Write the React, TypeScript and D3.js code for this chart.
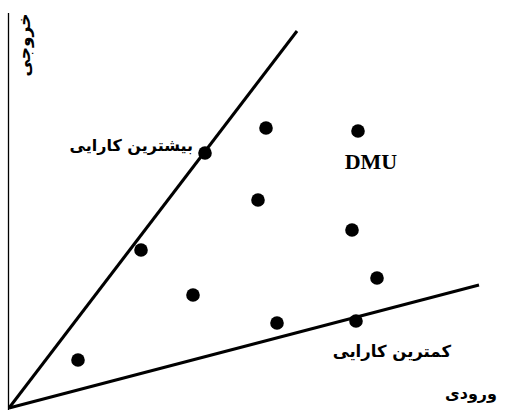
import React from "react";
import * as d3 from "d3";

const W = 508;
const H = 410;

// DMU points (input, output)
const dmuInput = [39.2, 51.4, 69.8, 49.8, 68.6, 73.6, 26.4, 36.8, 13.8, 53.6, 69.4];
const dmuOutput = [51, 56, 55.4, 41.6, 35.6, 26, 31.6, 22.6, 9.6, 17, 17.4];

// frontier lines from origin
const maxEffEnd = [57.6, 75.4];
const minEffEnd = [94, 24.6];

const labelMax = "بیشترین کارایی";
const labelMin = "کمترین کارایی";
const labelDMU = "DMU";
const xTitle = "ورودی";
const yTitle = "خروجی";

export default function App() {
  const x = d3.scaleLinear().domain([0, 100]).range([9, 509]);
  const y = d3.scaleLinear().domain([0, 80]).range([408, 8]);
  const line = d3
    .line<number[]>()
    .x((d) => x(d[0]))
    .y((d) => y(d[1]));
  const arabicFont = "'DejaVu Sans', sans-serif";
  return (
    <svg
      width={W}
      height={H}
      style={{ position: "absolute", left: 0, top: 0, background: "#fff" }}
    >
      <rect x={0} y={0} width={W} height={H} fill="#fff" />
      {/* y axis */}
      <line x1={x(0) - 0.5} x2={x(0) - 0.5} y1={13} y2={H} stroke="#000" strokeWidth={1.3} />
      <path d={line([[0, 0], maxEffEnd]) || ""} stroke="#000" strokeWidth={3} fill="none" />
      <path d={line([[0, 0], minEffEnd]) || ""} stroke="#000" strokeWidth={3} fill="none" />
      {dmuInput.map((v, i) => (
        <circle key={i} cx={x(v)} cy={y(dmuOutput[i])} r={6.8} fill="#000" />
      ))}
      <text
        x={193}
        y={151}
        textAnchor="end"
        fontFamily={arabicFont}
        fontWeight="bold"
        fontSize={16}
        fill="#000"
      >
        {labelMax}
      </text>
      <text
        x={371}
        y={169}
        textAnchor="middle"
        fontFamily="'Liberation Serif', serif"
        fontWeight="bold"
        fontSize={22}
        fill="#000"
      >
        {labelDMU}
      </text>
      <text
        x={451}
        y={357}
        textAnchor="end"
        fontFamily={arabicFont}
        fontWeight="bold"
        fontSize={16.5}
        fill="#000"
      >
        {labelMin}
      </text>
      <text
        x={497}
        y={399}
        textAnchor="end"
        fontFamily={arabicFont}
        fontWeight="bold"
        fontSize={16}
        fill="#000"
      >
        {xTitle}
      </text>
      <text
        transform="translate(30,45) rotate(-90)"
        textAnchor="middle"
        fontFamily={arabicFont}
        fontWeight="bold"
        fontSize={17}
        fill="#000"
      >
        {yTitle}
      </text>
    </svg>
  );
}
